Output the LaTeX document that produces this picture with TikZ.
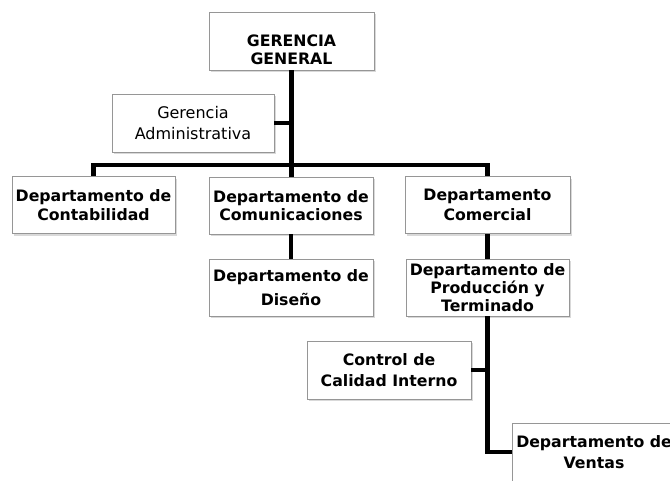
\documentclass[tikz,border=0pt]{standalone}
\usepackage{fontspec}
\setmainfont{DejaVu Sans}
\usepackage{tikz}
\usetikzlibrary{shadows}
\definecolor{boxline}{RGB}{150,150,150}

\begin{document}
\begin{tikzpicture}[x=0.75pt, y=-0.75pt,
    box/.style={draw=boxline, fill=white, line width=0.6pt, align=center,
        minimum width=#1*0.75pt, minimum height=57*0.75pt, inner sep=1pt,
        font=\fontsize{11.8}{14}\selectfont\bfseries,
        drop shadow={shadow xshift=1.5pt, shadow yshift=-1.5pt, opacity=0.3}},
    box/.default=164,
    conn/.style={line width=3.6pt, black, line join=miter}]
    \useasboundingbox (0,0) rectangle (670,480);

    % top level
    \node[box=165, minimum height=58*0.75pt] (gg) at (291.5,41)
        {\raisebox{-8pt}[\height][\depth]{\begin{tabular}{@{}c@{}}GERENCIA\\[-1pt]GENERAL\end{tabular}}};
    \node[box=162, minimum height=58*0.75pt, font=\fontsize{12}{16}\selectfont] (ga) at (193,123)
        {Gerencia\\Administrativa};

    % departments
    \node[box=163] (cont) at (93.5,205) {Departamento de\\Contabilidad};
    \node[box] (com) at (291,205.5) {Departamento de\\Comunicaciones};
    \node[box=165] (comer) at (487.5,205) {Departamento\\[1pt]Comercial};
    \node[box] (dis) at (291,287.5) {Departamento de\\[4pt]Diseño};
    \node[box=163, font=\fontsize{11.8}{13.5}\selectfont\bfseries] (prod) at (487.5,287.5)
        {Departamento de\\Producción y\\Terminado};
    \node[box, minimum height=58*0.75pt, font=\fontsize{11.8}{16}\selectfont\bfseries] (ctrl) at (389,370)
        {Control de\\Calidad Interno};
    \node[box, minimum height=58*0.75pt, font=\fontsize{11.8}{16}\selectfont\bfseries] (ventas) at (594,452)
        {Departamento de\\Ventas};

    % connectors
    \coordinate (bus) at (291,165);
    \draw[conn] (gg.south) -- (gg.south |- com.north);
    \draw[conn] (ga.east) -- (ga.east -| gg.south);
    \draw[conn] (cont.north) -- (cont.north |- bus) -- (comer.north |- bus) -- (comer.north);
    \draw[conn] (com.south) -- (dis.north);
    \draw[conn] (comer.south) -- (prod.north);
    \draw[conn] (prod.south) |- (ventas.west);
    \draw[conn] (ctrl.east) -- (ctrl.east -| prod.south);
\end{tikzpicture}
\end{document}
